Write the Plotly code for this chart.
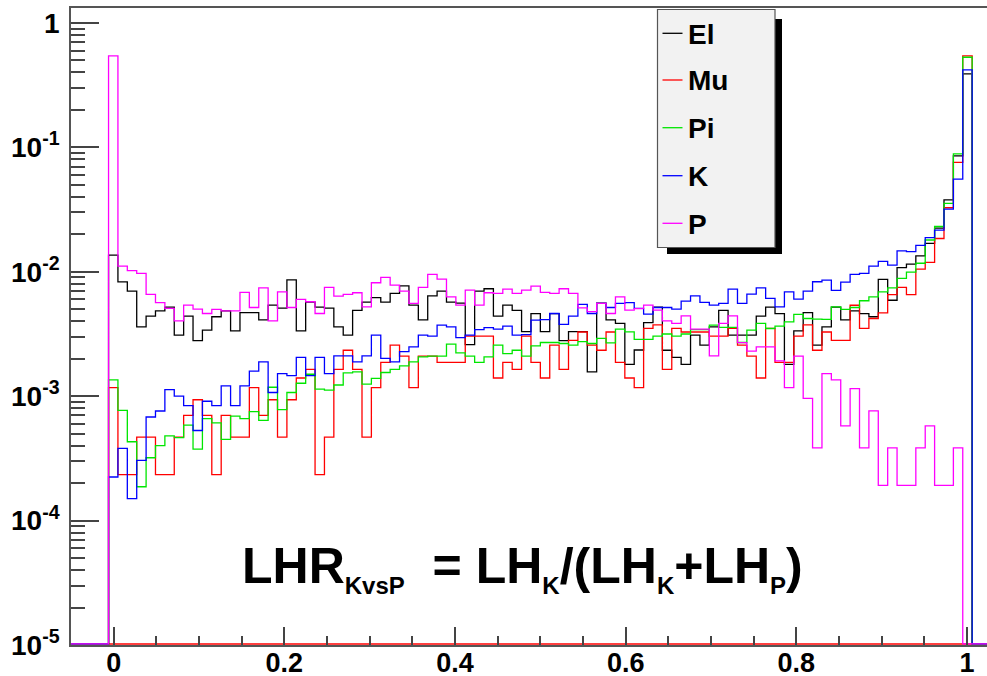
import plotly.graph_objects as go

# ---------------- data ----------------
X_MIN, X_MAX, N_BINS = -0.05, 1.05, 100   # histogram binning
SERIES = ["El", "Mu", "Pi", "K", "P"]
COLORS = ["#000000", "#ff0000", "#00e600", "#0000ff", "#ff00ff"]

el = [0, 0, 0, 0,
      0.0136, 0.0083, 0.0070, 0.0036, 0.0044, 0.00485, 0.0052, 0.0031, 0.0044, 0.0028,
      0.0034, 0.00435, 0.00485, 0.00335, 0.0047, 0.0047, 0.0041, 0.0054, 0.0051, 0.0086,
      0.00335, 0.0057, 0.0052, 0.0051, 0.0036, 0.0031, 0.0049, 0.0057, 0.0062, 0.0057,
      0.0067, 0.0077, 0.0054, 0.0041, 0.0064, 0.0070, 0.0057, 0.0056, 0.0026, 0.0070,
      0.0073, 0.0044, 0.0054, 0.0049, 0.0033, 0.0046, 0.0033, 0.0046, 0.0028, 0.0033,
      0.0033, 0.00157, 0.0056, 0.0041, 0.00385, 0.0018, 0.00235, 0.0039, 0.0052, 0.00234,
      0.00205, 0.0018, 0.0031, 0.00257, 0.0036, 0.0049, 0.0031, 0.0031, 0.0031, 0.0044,
      0.0052, 0.0046, 0.0018, 0.00335, 0.0047, 0.00257, 0.0036, 0.0052, 0.0041, 0.00485,
      0.0046, 0.00435, 0.0087, 0.0059, 0.0108, 0.0115, 0.0134, 0.0169, 0.0224, 0.0378,
      0.0853, 0.389,
      0, 0, 0, 0]

mu = [0, 0, 0, 0,
      0.00117, 0.000234, 0.000234, 0.000468, 0.000468, 0.000234, 0.000234, 0.000468, 0.000702, 0.000936,
      0.000702, 0.000234, 0.000702, 0.000468, 0.000468, 0.00117, 0.000702, 0.000936, 0.000468, 0.000936,
      0.0014, 0.00164, 0.000234, 0.000468, 0.00164, 0.00234, 0.00164, 0.000468, 0.00117, 0.00187,
      0.00257, 0.0021, 0.00117, 0.0021, 0.0021, 0.00187, 0.00187, 0.00187, 0.00304, 0.00304,
      0.00304, 0.0014, 0.00187, 0.00164, 0.00304, 0.00187, 0.0014, 0.00257, 0.00164, 0.00281,
      0.00328, 0.00257, 0.00234, 0.00328, 0.00187, 0.0014, 0.00117, 0.00351, 0.00374, 0.00164,
      0.00351, 0.00328, 0.00328, 0.00328, 0.00304, 0.00304, 0.00351, 0.00257, 0.0021, 0.0014,
      0.00351, 0.00187, 0.00187, 0.00304, 0.00374, 0.00234, 0.00328, 0.00281, 0.00281, 0.00538,
      0.00351, 0.00421, 0.00468, 0.00655, 0.00749, 0.00655, 0.0105, 0.0119, 0.0185, 0.0327,
      0.0757, 0.543,
      0, 0, 0, 0]

pi = [0, 0, 0, 0,
      0.00135, 0.00077, 0.00043, 0.000187, 0.00032, 0.0004, 0.00048, 0.000465, 0.000585, 0.000375,
      0.00066, 0.00061, 0.00045, 0.00069, 0.00066, 0.00075, 0.00064, 0.00118, 0.00078, 0.00107,
      0.00127, 0.0015, 0.00114, 0.00112, 0.00123, 0.00154, 0.00157, 0.00125, 0.00139, 0.00155,
      0.00164, 0.00175, 0.00189, 0.00207, 0.0021, 0.0021, 0.00262, 0.00223, 0.0021, 0.00187,
      0.00207, 0.00257, 0.0022, 0.00234, 0.0021, 0.00254, 0.0027, 0.0027, 0.00265, 0.00257,
      0.00274, 0.00265, 0.00291, 0.00268, 0.00346, 0.00329, 0.00286, 0.00286, 0.00304, 0.00316,
      0.00304, 0.00316, 0.00343, 0.00343, 0.00373, 0.00357, 0.00357, 0.0027, 0.0034, 0.00384,
      0.0035, 0.00365, 0.00396, 0.00454, 0.00421, 0.00416, 0.00414, 0.00523, 0.00498, 0.00516,
      0.00585, 0.00629, 0.0069, 0.00743, 0.00884, 0.00994, 0.0117, 0.018, 0.0231, 0.0355,
      0.0885, 0.53,
      0, 0, 0, 0]

k = [0, 0, 0, 0,
     0.000224, 0.00038, 0.00015, 0.000305, 0.00068, 0.00076, 0.00113, 0.0010, 0.00084, 0.00053,
     0.00091, 0.00084, 0.00121, 0.00084, 0.00121, 0.00159, 0.00189, 0.00107, 0.00152, 0.00146,
     0.00205, 0.00146, 0.00205, 0.00152, 0.00211, 0.00211, 0.00189, 0.00211, 0.0031, 0.00201,
     0.00189, 0.00228, 0.00249, 0.0031, 0.00304, 0.00373, 0.00361, 0.00296, 0.0031, 0.00343,
     0.00355, 0.00346, 0.00366, 0.0031, 0.00312, 0.00408, 0.00413, 0.00462, 0.00377, 0.0044,
     0.00546, 0.00462, 0.00556, 0.00516, 0.00556, 0.00564, 0.00507, 0.00457, 0.00516, 0.00516,
     0.00501, 0.00581, 0.00641, 0.00567, 0.0054, 0.00556, 0.00726, 0.00556, 0.00661, 0.00743,
     0.0061, 0.00523, 0.0069, 0.00603, 0.007, 0.00831, 0.00857, 0.00708, 0.00826, 0.00952,
     0.0097, 0.0111, 0.0121, 0.0113, 0.0147, 0.0145, 0.0163, 0.0188, 0.0216, 0.0319,
     0.0556, 0.419,
     0, 0, 0, 0]

p = [0, 0, 0, 0,
     0.543, 0.0111, 0.0102, 0.0097, 0.00657, 0.00564, 0.00507, 0.00403, 0.0054, 0.00501,
     0.00462, 0.00498, 0.00485, 0.00485, 0.00682, 0.00516, 0.00743, 0.00403, 0.0069, 0.00516,
     0.00599, 0.00574, 0.00462, 0.00748, 0.00637, 0.00657, 0.00678, 0.00523, 0.00816, 0.0090,
     0.00781, 0.0070, 0.00556, 0.00748, 0.00952, 0.00873, 0.00629, 0.0054, 0.00713, 0.0054,
     0.00678, 0.0067, 0.00726, 0.0067, 0.00713, 0.00767, 0.00682, 0.0067, 0.0073, 0.0067,
     0.00513, 0.00478, 0.00556, 0.00462, 0.00629, 0.00492, 0.00505, 0.0054, 0.00492, 0.00403,
     0.00384, 0.00442, 0.00346, 0.00346, 0.00211, 0.00384, 0.00442, 0.00269, 0.0023, 0.00249,
     0.00249, 0.00192, 0.00117, 0.0021, 0.00096, 0.000384, 0.00152, 0.00135, 0.000577, 0.00115,
     0.000384, 0.000762, 0.000192, 0.000384, 0.000192, 0.000192, 0.000384, 0.000577, 0.000192, 0.000192,
     0.000384, 0,
     0, 0, 0, 0]

VALUES = [el, mu, pi, k, p]

Y_TICK_VALS = [1e-5, 1e-4, 1e-3, 1e-2, 1e-1, 1]
Y_TICK_TEXT = ["10<sup>-5</sup>", "10<sup>-4</sup>", "10<sup>-3</sup>",
               "10<sup>-2</sup>", "10<sup>-1</sup>", "1"]
X_TICK_VALS = [0, 0.2, 0.4, 0.6, 0.8, 1.0]
X_TICK_TEXT = ["0", "0.2", "0.4", "0.6", "0.8", "1"]
SUB = '<sub><span style="font-size:24px">{}</span></sub>'
TITLE = ("LHR" + SUB.format("KvsP") + "  = LH" + SUB.format("K") + "/(LH" + SUB.format("K")
         + "+LH" + SUB.format("P") + ")")

# ---------------- layout geometry ----------------
W, H = 987, 676
ML, MR, MT, MB = 71, 0, 8, 31
PW, PH = W - ML - MR, H - MT - MB
Y_RANGE = [-5, 0.12]
X_RANGE = [-0.05, 1.0234]
FLOOR = 1.02e-5          # empty bins are drawn on the frame bottom (ROOT style)
FONT = "Liberation Sans"

bw = (X_MAX - X_MIN) / N_BINS
edges = [X_MIN + i * bw for i in range(N_BINS + 1)]

fig = go.Figure()

# red line along the frame bottom
fig.add_shape(type="line", xref="x", yref="y", x0=-0.006, x1=1.006, y0=FLOOR, y1=FLOOR,
              line=dict(color="#ff0000", width=1.6), layer="below")

for name, col, vals in zip(SERIES, COLORS, VALUES):
    yv = [v if v > 0 else FLOOR for v in vals]
    fig.add_trace(go.Scatter(x=edges, y=yv + [yv[-1]], mode="lines", name=name,
                             line=dict(color=col, width=1.3, shape="hv"),
                             showlegend=False, hoverinfo="skip"))

def px(xp):
    return (xp - ML) / PW

def py(yp):
    return (H - MB - yp) / PH

# ROOT-like legend box with drop shadow
fig.add_shape(type="rect", xref="paper", yref="paper", x0=px(667), x1=px(782), y0=py(254), y1=py(19),
              fillcolor="black", line=dict(width=0), layer="above")
fig.add_shape(type="rect", xref="paper", yref="paper", x0=px(657.5), x1=px(775), y0=py(247.5), y1=py(9.5),
              fillcolor="#f2f2f2", line=dict(color="#555555", width=1.2), layer="above")
leg_y = [33.3, 80, 127.7, 175.7, 223.3]
for name, col, yy in zip(SERIES, COLORS, leg_y):
    fig.add_shape(type="line", xref="paper", yref="paper", x0=px(662.5), x1=px(682.5), y0=py(yy), y1=py(yy),
                  line=dict(color=col, width=1.3), layer="above")
    fig.add_annotation(xref="paper", yref="paper", x=px(686), y=py(yy + 1), xanchor="left", yanchor="middle",
                       text=name, showarrow=False,
                       font=dict(family=FONT, size=28, color="black", weight="bold"))

fig.add_annotation(xref="paper", yref="paper", x=px(522), y=py(568), xanchor="center", yanchor="middle",
                   text=TITLE, showarrow=False,
                   font=dict(family=FONT, size=50, color="black", weight="bold"))

minor_y = [m * 10.0 ** e for e in range(-5, 0) for m in range(2, 10)]
minor_x = [0.05 * i for i in range(21) if i % 4 != 0]

fig.update_layout(
    width=W, height=H, margin=dict(l=ML, r=MR, t=MT, b=MB, pad=0, autoexpand=False),
    paper_bgcolor="white", plot_bgcolor="white", showlegend=False,
    xaxis=dict(range=X_RANGE, showgrid=False, zeroline=False, automargin=False,
               showline=True, linecolor="#555555", linewidth=1.5, mirror=True,
               tickmode="array", tickvals=X_TICK_VALS, ticktext=X_TICK_TEXT,
               ticks="inside", ticklen=18, tickwidth=1.5, tickcolor="#444444",
               ticklabelstandoff=-7,
               minor=dict(tickmode="array", tickvals=minor_x, ticks="inside", ticklen=9,
                          tickwidth=1.5, tickcolor="#444444", showgrid=False),
               tickfont=dict(family=FONT, size=27, color="black", weight="bold")),
    yaxis=dict(type="log", range=Y_RANGE, showgrid=False, zeroline=False, automargin=False,
               showline=True, linecolor="#555555", linewidth=1.5, mirror=False,
               tickmode="array", tickvals=Y_TICK_VALS, ticktext=Y_TICK_TEXT,
               ticks="inside", ticklen=28, tickwidth=1.5, tickcolor="#444444",
               ticklabelstandoff=4,
               minor=dict(tickmode="array", tickvals=minor_y, ticks="inside", ticklen=14,
                          tickwidth=1.5, tickcolor="#444444", showgrid=False),
               tickfont=dict(family=FONT, size=28, color="black", weight="bold")),
)

fig.write_html("out.html")
